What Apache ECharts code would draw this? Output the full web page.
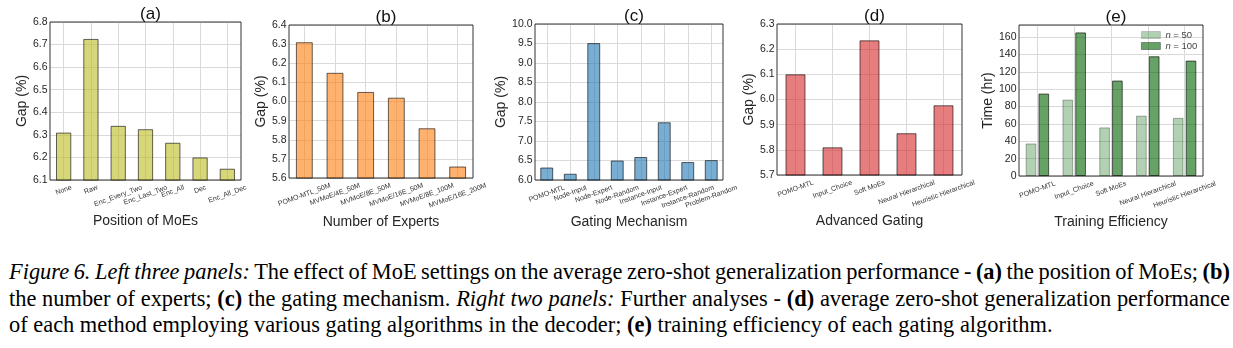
<!DOCTYPE html>
<html>
<head>
<meta charset="utf-8">
<script src="https://cdn.jsdelivr.net/npm/echarts@6/dist/echarts.min.js"></script>
<style>
  html, body { margin: 0; padding: 0; background: #fff; width: 1233px; height: 348px; overflow: hidden; }
  #chart { position: absolute; left: 0; top: 0; width: 1233px; height: 240px; }
  #caption { position: absolute; left: 9px; top: 259px; width: 1221px;
             font-family: "Liberation Serif", "Times New Roman", serif; font-size: 22.4px;
             line-height: 26.6px; color: #000; }
  #caption div { white-space: nowrap; }
</style>
</head>
<body>
<div id="chart"></div>
<div id="caption">
<div><span class="fit"><i>Figure 6. Left three panels:</i> The effect of MoE settings on the average zero-shot generalization performance - <b>(a)</b> the position of MoEs; <b>(b)</b></span></div>
<div><span class="fit">the number of experts; <b>(c)</b> the gating mechanism. <i>Right two panels:</i> Further analyses - <b>(d)</b> average zero-shot generalization performance</span></div>
<div><span>of each method employing various gating algorithms in the decoder; <b>(e)</b> training efficiency of each gating algorithm.</span></div>
</div>
<script>
// (a) position of the MoE layers
const positionCats = ['None', 'Raw', 'Enc_Every_Two', 'Enc_Last_Two', 'Enc_All', 'Dec', 'Enc_All_Dec'];
const positionGap = [6.31, 6.725, 6.34, 6.325, 6.265, 6.20, 6.15];

// (b) number of experts
const expertCats = ['POMO-MTL_50M', 'MVMoE/4E_50M', 'MVMoE/8E_50M', 'MVMoE/16E_50M', 'MVMoE/8E_100M', 'MVMoE/16E_200M'];
const expertGap = [6.31, 6.15, 6.05, 6.02, 5.86, 5.66];

// (c) gating mechanism
const gatingCats = ['POMO-MTL', 'Node-Input', 'Node-Expert', 'Node-Random', 'Instance-Input', 'Instance-Expert', 'Instance-Random', 'Problem-Random'];
const gatingGap = [6.32, 6.16, 9.51, 6.50, 6.59, 7.48, 6.46, 6.51];

// (d) advanced gating in the decoder
const advancedCats = ['POMO-MTL', 'Input_Choice', 'Soft MoEs', 'Neural Hierarchical', 'Heuristic Hierarchical'];
const advancedGap = [6.10, 5.81, 6.235, 5.866, 5.977];

// (e) training time (hours)
const trainCats = ['POMO-MTL', 'Input_Choice', 'Soft MoEs', 'Neural Hierarchical', 'Heuristic Hierarchical'];
const trainTimeN50 = [37.5, 88, 56, 69.5, 67];
const trainTimeN100 = [95, 165.5, 110, 138, 133];
const trainSeriesNames = ['n = 50', 'n = 100'];

// y-axis ranges
const gapTicksA = { min: 6.1, max: 6.8, interval: 0.1 };
const gapTicksB = { min: 5.6, max: 6.4, interval: 0.1 };
const gapTicksC = { min: 6.0, max: 10.0, interval: 0.5 };
const gapTicksD = { min: 5.7, max: 6.3, interval: 0.1 };
const timeTicksE = { min: 0, max: 174, interval: 20 };

const FONT = '"Liberation Sans", Arial, Helvetica, sans-serif';
const TEXT = '#262626';
const LABEL_ROT = 20;
const LABEL_SIZE = 7;

// Full caption lines are spread to the column width by adjusting word spacing.
(function justifyCaption() {
  const target = document.getElementById('caption').clientWidth;
  document.querySelectorAll('#caption .fit').forEach(function (el) {
    const natural = el.getBoundingClientRect().width;
    const gaps = el.textContent.split(' ').length - 1;
    el.style.wordSpacing = ((target - natural) / gaps) + 'px';
  });
})();

const measureCtx = document.createElement('canvas').getContext('2d');
measureCtx.font = LABEL_SIZE + 'px ' + FONT;

// Translucent fill/edge, like bars drawn with an alpha.
function rgba(hex, a) {
  const n = parseInt(hex.slice(1), 16);
  return 'rgba(' + (n >> 16) + ',' + ((n >> 8) & 255) + ',' + (n & 255) + ',' + a + ')';
}

// Rotated category labels whose bounding box is centred under the tick
// and hangs just below the axis.
function rotatedLabels(cats, pad) {
  const r = LABEL_ROT * Math.PI / 180;
  const rich = {};
  cats.forEach(function (c, i) {
    const w = measureCtx.measureText(c).width;
    const h = LABEL_SIZE * 1.15;
    const d = pad + (w * Math.sin(r) + h * Math.cos(r)) / 2;
    rich['k' + i] = {
      fontSize: LABEL_SIZE, fontFamily: FONT, color: '#333',
      padding: [2 * d * Math.cos(r), 2 * d * Math.sin(r), 0, 0]
    };
  });
  return {
    interval: 0, rotate: LABEL_ROT, margin: 0, align: 'center', verticalAlign: 'middle',
    formatter: function (v, i) { return '{k' + i + '|' + v + '}'; },
    rich: rich
  };
}

const panels = [
  { title: '(a)', xName: 'Position of MoEs', yName: 'Gap (%)', cats: positionCats, ticks: gapTicksA, digits: 1,
    box: { left: 50, top: 22, width: 191, height: 158 }, yGap: 25, xGap: 38,
    series: [{ name: 'a', data: positionGap, color: '#bcbd22', alpha: 0.6 }], barWidth: '56%' },
  { title: '(b)', xName: 'Number of Experts', yName: 'Gap (%)', cats: expertCats, ticks: gapTicksB, digits: 1,
    box: { left: 289, top: 25, width: 184, height: 153 }, yGap: 24, xGap: 40,
    series: [{ name: 'b', data: expertGap, color: '#ff7f0e', alpha: 0.6 }], barWidth: '55%' },
  { title: '(c)', xName: 'Gating Mechanism', yName: 'Gap (%)', cats: gatingCats, ticks: gapTicksC, digits: 1,
    box: { left: 535, top: 24, width: 188, height: 156 }, yGap: 30, xGap: 38,
    series: [{ name: 'c', data: gatingGap, color: '#1f77b4', alpha: 0.6 }], barWidth: '55%' },
  { title: '(d)', xName: 'Advanced Gating', yName: 'Gap (%)', cats: advancedCats, ticks: gapTicksD, digits: 1,
    box: { left: 777, top: 24, width: 185, height: 151 }, yGap: 23, xGap: 43,
    series: [{ name: 'd', data: advancedGap, color: '#d62728', alpha: 0.6 }], barWidth: '54%' },
  { title: '(e)', xName: 'Training Efficiency', yName: 'Time (hr)', cats: trainCats, ticks: timeTicksE, digits: 0,
    box: { left: 1019, top: 25, width: 184, height: 151 }, yGap: 26, xGap: 42,
    series: [
      { name: trainSeriesNames[0], data: trainTimeN50, color: '#006400', alpha: 0.3 },
      { name: trainSeriesNames[1], data: trainTimeN100, color: '#006400', alpha: 0.6 }
    ], barWidth: '29%', barGap: '20%', hideMax: true }
];

const option = {
  animation: false,
  backgroundColor: '#fff',
  textStyle: { fontFamily: FONT },
  title: [], grid: [], xAxis: [], yAxis: [], series: [],
  legend: {
    data: [
      { name: trainSeriesNames[0], itemStyle: { color: rgba('#006400', 0.3), borderColor: rgba('#000000', 0.2), borderWidth: 0.8 } },
      { name: trainSeriesNames[1], itemStyle: { color: rgba('#006400', 0.6), borderColor: rgba('#000000', 0.45), borderWidth: 0.8 } }
    ],
    orient: 'vertical', left: 1141, top: 30, padding: 0,
    icon: 'rect', itemWidth: 19, itemHeight: 7, itemGap: 1,
    textStyle: { fontSize: 9.5, color: '#444', fontFamily: FONT,
      rich: { i: { fontStyle: 'italic', fontSize: 9.5, color: '#444', fontFamily: FONT } } },
    formatter: function (name) { return '{i|n}' + name.slice(1); }
  }
};

panels.forEach(function (p, gi) {
  const b = p.box;
  option.grid.push({
    left: b.left, top: b.top, width: b.width, height: b.height,
    show: true, z: 1, backgroundColor: 'transparent', borderColor: '#333', borderWidth: 1
  });
  option.title.push({
    text: p.title, left: b.left + b.width / 2, top: b.top - 21, textAlign: 'center',
    textStyle: { fontSize: 17, fontWeight: 'normal', color: '#111', fontFamily: FONT }
  });
  option.xAxis.push({
    type: 'category', gridIndex: gi, data: p.cats,
    name: p.xName, nameLocation: 'middle', nameGap: p.xGap,
    nameTextStyle: { fontSize: 14, color: TEXT, verticalAlign: 'middle', fontFamily: FONT },
    axisLine: { show: false }, axisTick: { show: false },
    splitLine: { show: true, alignWithLabel: true, lineStyle: { color: '#dadada', width: 1 } },
    axisLabel: rotatedLabels(p.cats, 3.5)
  });
  option.yAxis.push({
    type: 'value', gridIndex: gi,
    min: p.ticks.min, max: p.ticks.max, interval: p.ticks.interval,
    name: p.yName, nameLocation: 'middle', nameGap: p.yGap, nameRotate: 90,
    nameTextStyle: { fontSize: 14, color: TEXT, verticalAlign: 'middle', fontFamily: FONT },
    axisLine: { show: false }, axisTick: { show: false },
    splitLine: { show: true, lineStyle: { color: '#dadada', width: 1 } },
    axisLabel: {
      margin: 2.5, fontSize: 10.5, color: TEXT, fontFamily: FONT,
      showMaxLabel: !p.hideMax,
      formatter: function (v) { return v.toFixed(p.digits); }
    }
  });
  p.series.forEach(function (s) {
    option.series.push({
      type: 'bar', name: s.name, xAxisIndex: gi, yAxisIndex: gi,
      data: s.data, barWidth: p.barWidth, barGap: p.barGap || '30%',
      itemStyle: { color: rgba(s.color, s.alpha), borderColor: rgba('#000000', s.alpha), borderWidth: 1 }
    });
  });
});

const chart = echarts.init(document.getElementById('chart'), null, { renderer: 'canvas' });
chart.setOption(option);
</script>
</body>
</html>
